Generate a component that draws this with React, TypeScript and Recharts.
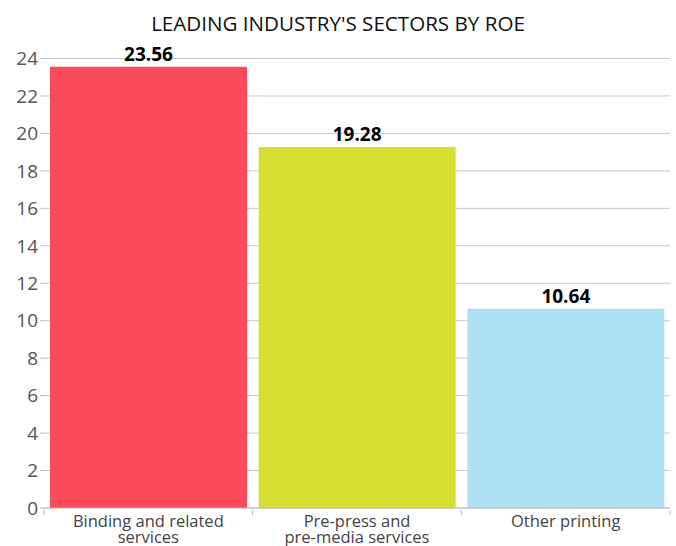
import { BarChart, Bar, XAxis, YAxis, CartesianGrid, LabelList, Cell } from 'recharts'

const sectors = ['Binding and related services', 'Pre-press and pre-media services', 'Other printing']
const sectorLines = [['Binding and related', 'services'], ['Pre-press and', 'pre-media services'], ['Other printing']]
const roe = [23.56, 19.28, 10.64]
const barColors = ['#fb4b5b', '#d8df33', '#ade1f3']
const yTicks = [0, 2, 4, 6, 8, 10, 12, 14, 16, 18, 20, 22, 24]

const data = sectors.map((name, i) => ({ name, roe: roe[i], idx: i }))

const FONT = '"Open Sans", sans-serif'
const BAND = 626 / sectors.length

function CategoryTick(props: any) {
  const { x, y, payload, index } = props
  const lines = sectorLines[index] || [payload.value]
  return (
    <g>
      <line x1={x - BAND / 2} x2={x - BAND / 2} y1={y - 6} y2={y - 1} stroke="#bbb" />
      {index === sectors.length - 1 && (
        <line x1={x + BAND / 2} x2={x + BAND / 2} y1={y - 6} y2={y - 1} stroke="#bbb" />
      )}
      <text x={x} y={y + 11} textAnchor="middle" fontSize={16.5} fill="#444" fontFamily={FONT}>
        {lines.map((l: string, i: number) => (
          <tspan key={i} x={x} dy={i === 0 ? 0 : 16}>{l}</tspan>
        ))}
      </text>
    </g>
  )
}

export default function App() {
  return (
    <div style={{ position: 'fixed', left: 0, top: 0, width: 676, height: 546, background: '#fff' }}>
      <div style={{ position: 'absolute', top: 10, left: 0, width: 676, textAlign: 'center', fontFamily: FONT, fontSize: 20.6, color: '#111', lineHeight: '26px' }}>
        LEADING INDUSTRY'S SECTORS BY ROE
      </div>
      <BarChart width={676} height={546} data={data} margin={{ top: 58.5, right: 6, bottom: 8, left: 0 }} barCategoryGap={6}>
        <CartesianGrid vertical={false} stroke="#c8c8c8" />
        <XAxis dataKey="name" interval={0} tickLine={false} axisLine={{ stroke: '#bbb' }} height={30} tick={<CategoryTick />} />
        <YAxis domain={[0, 24]} ticks={yTicks} width={44} axisLine={false} tickSize={4} tickLine={{ stroke: '#bbb' }}
          tick={{ fontSize: 19, fill: '#555', fontFamily: FONT }} interval={0} />
        <Bar dataKey="roe" isAnimationActive={false}>
          {data.map((d) => (
            <Cell key={d.name} fill={barColors[d.idx]} />
          ))}
          <LabelList dataKey="roe" position="top" offset={6} fill="#000" fontSize={19} fontWeight="bold" fontFamily={FONT}
            formatter={(v: any) => Number(v).toFixed(2)} />
        </Bar>
      </BarChart>
    </div>
  )
}
